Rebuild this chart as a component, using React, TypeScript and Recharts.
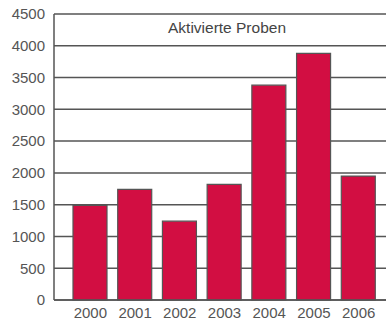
import { BarChart, Bar, XAxis, YAxis, CartesianGrid } from 'recharts';

const years = ['2000', '2001', '2002', '2003', '2004', '2005', '2006'];
const samples = [1490, 1740, 1240, 1820, 3380, 3880, 1950];
const yTicks = [0, 500, 1000, 1500, 2000, 2500, 3000, 3500, 4000, 4500];

const data = years.map((year, i) => ({ year, samples: samples[i] }));

const tickStyle = { fill: '#555', fontSize: 15, fontFamily: 'Liberation Sans, Arial, sans-serif' };

export default function App() {
  return (
    <div style={{ position: 'absolute', left: 0, top: 0 }}>
      <BarChart
        width={387}
        height={320}
        data={data}
        margin={{ top: 14, right: 1, bottom: 0, left: 0 }}
      >
        <CartesianGrid vertical={false} stroke="#555" strokeWidth={1.5} />
        <XAxis
          dataKey="year"
          height={20}
          axisLine={{ stroke: '#555', strokeWidth: 1.5 }}
          tickLine={false}
          tick={tickStyle}
          padding={{ left: 14, right: 5 }}
          interval={0}
          dy={-1}
        />
        <YAxis
          width={54}
          domain={[0, 4500]}
          ticks={yTicks}
          axisLine={{ stroke: '#555', strokeWidth: 1.5 }}
          tickLine={false}
          tick={tickStyle}
          tickMargin={3}
        />
        <text
          x={227}
          y={29}
          textAnchor="middle"
          dominantBaseline="middle"
          fill="#444"
          fontSize={15.5}
          fontFamily="Liberation Sans, Arial, sans-serif"
        >
          Aktivierte Proben
        </text>
        <Bar
          dataKey="samples"
          fill="#d20e42"
          stroke="#555"
          strokeWidth={1.2}
          barSize={34}
          isAnimationActive={false}
        />
      </BarChart>
    </div>
  );
}
